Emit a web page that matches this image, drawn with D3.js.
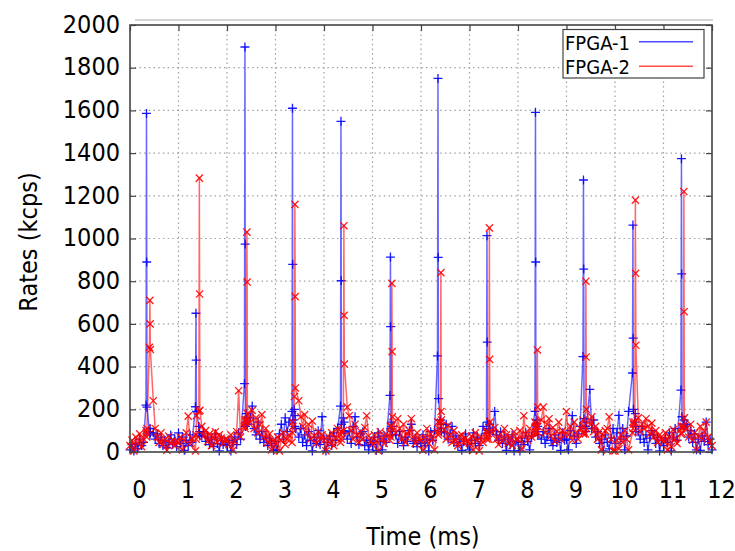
<!DOCTYPE html>
<html><head><meta charset="utf-8">
<script src="https://cdn.jsdelivr.net/npm/d3@7"></script>
<style>
body{margin:0;background:#fff;}
svg{display:block;}
text{font-family:"DejaVu Sans Condensed","DejaVu Sans",sans-serif;font-stretch:condensed;fill:#000;}
</style></head><body><svg id="c" width="735" height="551"></svg>
<script>
const seriesNames = ["FPGA-1", "FPGA-2"];
const xTickLabels = [0,1,2,3,4,5,6,7,8,9,10,11,12];
const yTickLabels = [0,200,400,600,800,1000,1200,1400,1600,1800,2000];

// sample times (ms), shared by both series
const timeMs = [
  0,0.04,0.08,0.12,0.16,0.2,0.24,0.28,0.33,0.34,0.345,0.35,0.4,0.41,0.415,0.42,0.48,0.52,0.56,0.6,0.64,0.68,0.72,0.76,0.8,0.84,0.88,0.92,0.96,
  1,1.04,1.08,1.12,1.16,1.2,1.24,1.28,1.35,1.36,1.365,1.37,1.42,1.43,1.435,1.44,1.48,1.52,1.56,1.6,1.64,1.68,1.72,1.76,1.8,1.84,1.88,1.92,1.96,
  2,2.04,2.08,2.12,2.16,2.2,2.24,2.28,2.36,2.37,2.375,2.38,2.4,2.41,2.415,2.42,2.48,2.52,2.56,2.6,2.64,2.68,2.72,2.76,2.8,2.84,2.88,2.92,2.96,
  3,3.04,3.08,3.12,3.16,3.2,3.24,3.28,3.34,3.35,3.355,3.36,3.39,3.4,3.405,3.41,3.48,3.52,3.56,3.6,3.64,3.68,3.72,3.76,3.8,3.84,3.88,3.92,3.96,
  4,4.04,4.08,4.12,4.16,4.2,4.24,4.28,4.34,4.35,4.355,4.36,4.4,4.41,4.415,4.42,4.48,4.52,4.56,4.6,4.64,4.68,4.72,4.76,4.8,4.84,4.88,4.92,4.96,
  5,5.04,5.08,5.12,5.16,5.2,5.24,5.28,5.36,5.37,5.375,5.38,5.39,5.4,5.405,5.41,5.48,5.52,5.56,5.6,5.64,5.68,5.72,5.76,5.8,5.84,5.88,5.92,5.96,
  6,6.04,6.08,6.12,6.16,6.2,6.24,6.28,6.34,6.35,6.355,6.36,6.4,6.41,6.415,6.42,6.48,6.52,6.56,6.6,6.64,6.68,6.72,6.76,6.8,6.84,6.88,6.92,6.96,
  7,7.04,7.08,7.12,7.16,7.2,7.24,7.28,7.35,7.36,7.365,7.37,7.4,7.41,7.415,7.42,7.48,7.52,7.56,7.6,7.64,7.68,7.72,7.76,7.8,7.84,7.88,7.92,7.96,
  8,8.04,8.08,8.12,8.16,8.2,8.24,8.28,8.35,8.36,8.365,8.37,8.39,8.4,8.405,8.41,8.48,8.52,8.56,8.6,8.64,8.68,8.72,8.76,8.8,8.84,8.88,8.92,8.96,
  9,9.04,9.08,9.12,9.16,9.2,9.24,9.28,9.34,9.35,9.355,9.36,9.39,9.4,9.405,9.41,9.48,9.52,9.56,9.6,9.64,9.68,9.72,9.76,9.8,9.84,9.88,9.92,9.96,
  10,10.04,10.08,10.12,10.16,10.2,10.24,10.28,10.36,10.37,10.375,10.38,10.41,10.42,10.425,10.43,10.48,10.52,10.56,10.6,10.64,10.68,10.72,10.76,10.8,10.84,10.88,10.92,10.96,
  11,11.04,11.08,11.12,11.16,11.2,11.24,11.28,11.36,11.37,11.375,11.38,11.41,11.42,11.425,11.43,11.48,11.52,11.56,11.6,11.64,11.68,11.72,11.76,11.8,11.84,11.88,11.92,11.96,
  12
];

const fpga1 = [
  10,35,5,40,15,60,30,45,220,1586,890,210,95,80,110,90,90,60,85,40,70,30,55,20,45,80,35,60,25,
  90,40,70,8,55,30,80,45,212,650,430,190,120,85,95,75,75,95,50,70,35,60,25,85,40,5,65,35,50,
  30,55,5,45,70,35,90,60,320,1897,974,120,180,140,160,130,160,215,110,80,140,60,95,45,70,30,65,40,8,
  50,10,85,130,60,160,95,140,190,1610,879,150,200,120,170,110,70,110,45,80,30,95,55,5,70,40,100,35,165,
  60,5,45,75,30,90,55,110,215,1549,802,130,160,100,140,90,60,95,40,120,165,70,35,85,95,30,55,10,45,
  35,70,8,90,50,10,75,45,265,913,587,110,140,95,120,80,80,40,95,60,30,70,50,100,130,40,65,25,55,
  40,80,30,60,5,95,55,100,450,1750,912,250,150,110,130,95,90,130,60,85,120,45,75,30,60,8,50,85,35,
  10,55,90,40,70,30,65,120,87,1013,515,140,110,90,130,100,100,190,80,55,95,40,70,8,60,35,80,5,50,
  45,5,65,35,90,50,10,75,190,1591,890,130,150,95,120,80,60,95,40,70,110,55,30,80,45,65,8,90,55,
  60,10,100,170,75,40,85,120,447,1274,857,156,120,95,140,110,293,110,150,70,95,40,60,5,80,45,15,65,110,
  40,90,172,60,110,10,75,190,370,1063,533,200,140,180,120,95,95,60,120,45,80,10,65,100,80,40,70,5,55,
  30,65,45,90,5,70,110,55,290,1374,834,165,130,110,150,120,130,70,100,45,85,10,60,8,75,50,140,35,60,
  10
];

const fpga2 = [
  30,55,5,70,40,85,25,60,100,90,70,110,490,710,600,480,240,110,70,45,90,35,60,8,75,40,55,30,50,
  45,70,10,55,90,168,40,65,5,80,60,170,190,1283,740,195,120,75,100,50,85,30,70,95,45,80,65,40,60,
  60,35,80,8,50,95,287,70,120,150,110,140,150,1030,796,180,140,195,110,160,90,127,175,70,110,45,85,10,55,
  40,70,5,55,90,35,60,80,45,140,90,120,260,1160,728,300,240,165,120,175,90,130,60,145,75,40,95,60,80,
  55,5,75,40,90,30,65,110,45,80,60,95,100,1060,640,412,210,170,100,60,130,80,45,95,60,115,170,75,50,
  35,80,50,5,95,60,40,85,55,120,90,70,120,790,470,165,90,156,110,60,130,45,85,100,156,70,40,90,60,
  55,8,70,110,40,85,60,10,95,140,80,110,140,840,190,150,105,60,125,80,45,100,55,30,75,80,45,65,50,
  40,75,10,90,55,5,70,45,100,60,90,75,60,1050,434,140,90,115,60,35,85,50,110,80,40,70,30,95,60,
  60,100,15,170,85,55,110,70,140,95,120,80,95,478,210,120,150,210,90,130,156,75,115,50,95,140,60,100,80,
  190,80,120,55,140,90,60,110,150,85,120,95,85,800,445,200,130,165,95,120,60,95,10,75,100,110,165,60,5,
  5,55,15,80,45,100,60,10,90,140,110,130,140,1180,837,500,160,95,130,110,156,120,85,135,70,100,45,80,60,
  50,90,10,70,25,105,60,40,85,120,90,110,120,1220,657,160,110,70,130,55,90,10,75,120,60,95,140,70,50,
  30
];

const colors = ["#0000ff", "#ff0000"];

const L = 130, R = 712, T = 25, B = 452;
const svg = d3.select("#c");
const x = d3.scaleLinear().domain([0, 12]).range([L, R]);
const y = d3.scaleLinear().domain([0, 2000]).range([B, T]);

// top shadow line
svg.append("line").attr("x1", 135).attr("x2", 713).attr("y1", 20).attr("y2", 20)
  .attr("stroke", "#d4d4d4").attr("stroke-width", 2);

// grid
const grid = svg.append("g").attr("stroke", "#a0a0a0").attr("stroke-width", 1.2)
  .attr("stroke-dasharray", "1.5,3.2");
xTickLabels.slice(1, -1).forEach(v => {
  grid.append("line").attr("x1", x(v)).attr("x2", x(v)).attr("y1", T).attr("y2", B);
});
yTickLabels.slice(1, -1).forEach(v => {
  grid.append("line").attr("x1", L).attr("x2", R).attr("y1", y(v)).attr("y2", y(v));
});

// axes
const fs = 25;
const ax = svg.append("g").attr("transform", `translate(0,${B})`)
  .call(d3.axisBottom(x).tickValues(xTickLabels).tickSize(-6).tickPadding(28).tickFormat(d3.format("d")));
ax.selectAll("text").attr("dx", 9).style("font-size", fs + "px");
const ay = svg.append("g").attr("transform", `translate(${L},0)`)
  .call(d3.axisLeft(y).tickValues(yTickLabels).tickSize(-6).tickPadding(10).tickFormat(d3.format("d")));
ay.selectAll("text").attr("dy", "0.29em").style("font-size", fs + "px");
svg.append("g").attr("transform", `translate(0,${T})`)
  .call(d3.axisTop(x).tickValues(xTickLabels).tickSize(-6).tickFormat(""));
svg.append("g").attr("transform", `translate(${R},0)`)
  .call(d3.axisRight(y).tickValues(yTickLabels).tickSize(-6).tickFormat(""));
svg.selectAll(".domain").remove();
svg.selectAll(".tick line").attr("stroke", "#444").attr("stroke-width", 1.2);

// series
const series = [fpga1, fpga2];
const line = d3.line().x((d, i) => x(timeMs[i])).y(d => y(d));
const markers = ["M-4.5,0H4.5M0,-4.5V4.5", "M-3.6,-3.6L3.6,3.6M-3.6,3.6L3.6,-3.6"];
series.forEach((vals, s) => {
  const g = svg.append("g");
  g.append("path").datum(vals).attr("d", line).attr("fill", "none")
    .attr("stroke", colors[s]).attr("stroke-opacity", 0.6).attr("stroke-width", 1.5)
    .attr("stroke-linejoin", "round");
  g.selectAll("path.m").data(vals).join("path").attr("class", "m")
    .attr("transform", (d, i) => `translate(${x(timeMs[i])},${y(d)})`)
    .attr("d", markers[s]).attr("stroke", colors[s]).attr("stroke-width", 1.3)
    .attr("stroke-opacity", 0.9).attr("fill", "none");
});

// frame
svg.append("rect").attr("x", L).attr("y", T).attr("width", R - L).attr("height", B - T)
  .attr("fill", "none").attr("stroke", "#444").attr("stroke-width", 1.6);

// legend
const lg = svg.append("g");
lg.append("rect").attr("x", 563).attr("y", 29.5).attr("width", 141).attr("height", 48.5)
  .attr("fill", "#fff").attr("stroke", "#444").attr("stroke-width", 1.2);
seriesNames.forEach((n, i) => {
  lg.append("text").attr("x", 565).attr("y", 49.5 + i * 24.5).style("font-size", "20px").text(n);
  lg.append("line").attr("x1", 639).attr("x2", 693).attr("y1", 41.7 + i * 24.5).attr("y2", 41.7 + i * 24.5)
    .attr("stroke", colors[i]).attr("stroke-opacity", 0.7).attr("stroke-width", 1.6);
});

// titles
svg.append("text").attr("x", 423).attr("y", 545).attr("text-anchor", "middle")
  .style("font-size", fs + "px").text("Time (ms)");
svg.append("text").attr("transform", "translate(37,242) rotate(-90)").attr("text-anchor", "middle")
  .style("font-size", fs + "px").text("Rates (kcps)");
</script></body></html>
